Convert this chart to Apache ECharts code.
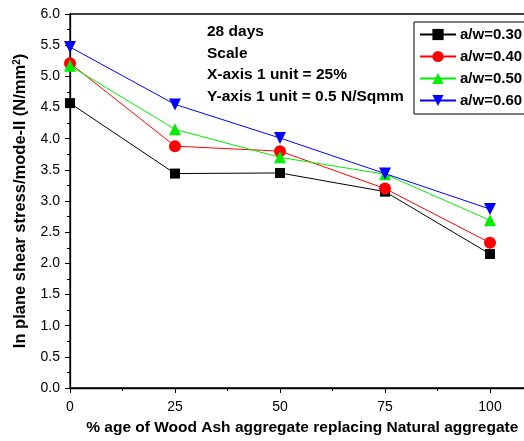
<!DOCTYPE html>
<html>
<head>
<meta charset="utf-8">
<script src="https://cdn.jsdelivr.net/npm/echarts@6/dist/echarts.min.js"></script>
<style>
  html, body { margin: 0; padding: 0; background: #fff; }
  #main { width: 524px; height: 441px; }
</style>
</head>
<body>
<div id="main"></div>
<script>
// % wood ash replacing natural aggregate
const ashPercent = [0, 25, 50, 75, 100];
const seriesNames = ['a/w=0.30', 'a/w=0.40', 'a/w=0.50', 'a/w=0.60'];
// in plane shear stress, N/mm2
const aw030 = [4.57, 3.44, 3.45, 3.15, 2.15];
const aw040 = [5.21, 3.88, 3.80, 3.20, 2.33];
const aw050 = [5.17, 4.15, 3.70, 3.43, 2.69];
const aw060 = [5.47, 4.55, 4.01, 3.44, 2.87];
const notes = ['28 days', 'Scale', 'X-axis 1 unit = 25%', 'Y-axis 1 unit = 0.5 N/Sqmm'];

const myChart = echarts.init(document.getElementById('main'));

const font = 'Liberation Sans, Arial, sans-serif';
const colors = ['#000000', '#ff0000', '#00ee00', '#0000ff'];
const symbols = ['rect', 'circle', 'triangle', 'triangle'];
const allValues = [aw030, aw040, aw050, aw060];

const series = allValues.map(function(vals, i) {
  return {
    name: seriesNames[i],
    type: 'line',
    data: vals.map(function(v, j) { return [ashPercent[j], v]; }),
    symbol: symbols[i],
    symbolSize: i === 0 ? 10 : 12,
    symbolRotate: i === 3 ? 180 : 0,
    showSymbol: true,
    itemStyle: { color: colors[i] },
    lineStyle: { color: colors[i], width: 1 },
    z: 2 + i,
  };
});

const option = {
  animation: false,
  textStyle: { fontFamily: font },
  grid: {
    left: 70,
    top: 14,
    bottom: 53,
    width: 472.5,
    outerBoundsMode: 'none',
    show: true,
    borderColor: '#000',
    borderWidth: 1.3,
  },
  graphic: notes.map(function(t, i) {
    return {
      type: 'text',
      left: 207,
      top: 24 + i * 21.5,
      style: { text: t, font: 'bold 15.5px ' + font, fill: '#000' },
    };
  }),
  legend: {
    orient: 'vertical',
    left: 414,
    top: 22,
    padding: [5, 8, 6, 5],
    itemGap: 7,
    itemWidth: 36,
    itemHeight: 14,
    borderColor: '#000',
    borderWidth: 1,
    backgroundColor: '#fff',
    textStyle: { fontFamily: font, fontSize: 15, fontWeight: 'bold', color: '#000', padding: [0, 0, 0, -1] },
    data: seriesNames,
  },
  xAxis: {
    type: 'value',
    min: 0,
    max: 112.5,
    interval: 25,
    name: '% age of Wood Ash aggregate replacing Natural aggregate',
    nameLocation: 'middle',
    nameGap: 32,
    nameTextStyle: { fontSize: 15.5, fontWeight: 'bold', color: '#000', fontFamily: font, padding: [0, 0, 0, -8] },
    axisLine: { lineStyle: { color: '#000', width: 1.3 } },
    axisTick: { inside: false, length: 5, lineStyle: { color: '#000' } },
    minorTick: { show: true, splitNumber: 2, length: 3, lineStyle: { color: '#000' } },
    splitLine: { show: false },
    axisLabel: {
      color: '#000',
      fontSize: 14,
      margin: 12,
      fontFamily: font,
      formatter: function(v) { return v > 100 ? '' : String(v); },
    },
  },
  yAxis: {
    type: 'value',
    min: 0,
    max: 6,
    interval: 0.5,
    name: '{a|In plane shear stress/mode-II (N/mm}{s|2}{a|)}',
    nameLocation: 'middle',
    nameGap: 41,
    nameTextStyle: {
      rich: {
        a: { fontSize: 16.5, fontWeight: 'bold', color: '#000', fontFamily: font },
        s: { fontSize: 10, fontWeight: 'bold', color: '#000', fontFamily: font, verticalAlign: 'top', padding: [0, 0, 7, 0] },
      },
    },
    axisLine: { show: true, lineStyle: { color: '#000', width: 1.3 } },
    axisTick: { inside: false, length: 5, lineStyle: { color: '#000' } },
    minorTick: { show: true, splitNumber: 2, length: 3, lineStyle: { color: '#000' } },
    splitLine: { show: false },
    axisLabel: {
      color: '#000',
      fontSize: 14,
      margin: 10,
      fontFamily: font,
      formatter: function(v) { return v.toFixed(1); },
    },
  },
  series: series,
};

myChart.setOption(option);
</script>
</body>
</html>
